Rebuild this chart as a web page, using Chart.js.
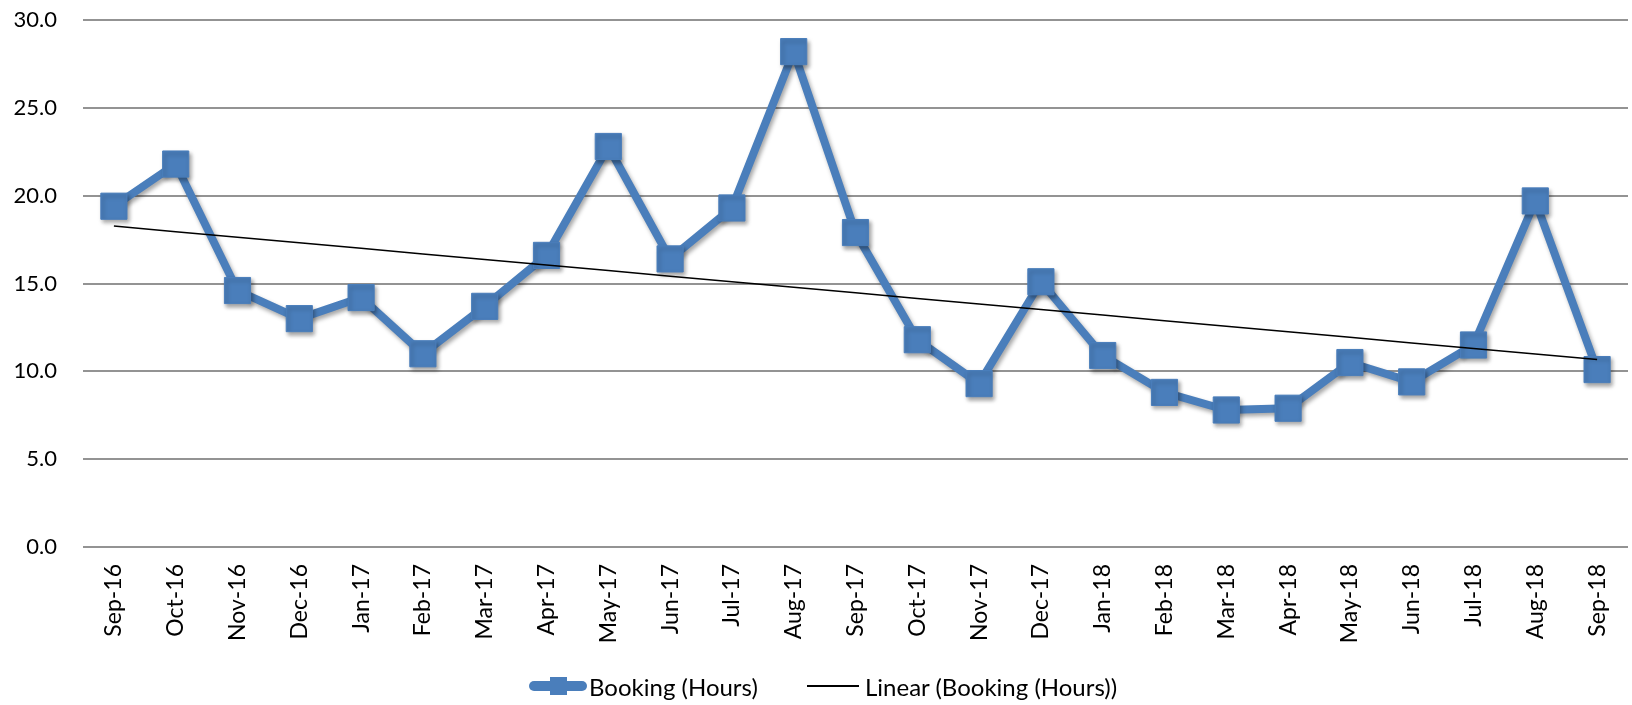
<!DOCTYPE html>
<html>
<head>
<meta charset="utf-8">
<script src="https://cdn.jsdelivr.net/npm/chart.js@4"></script>
<style>
  html, body { margin: 0; padding: 0; background: #fff; overflow: hidden; }
  #wrap { position: relative; width: 1632px; height: 705px; overflow: hidden; }
  canvas { display: block; }
  .leg { position: absolute; top: 672px; height: 28px; display: flex; align-items: center;
         font-family: Lato, "Open Sans", sans-serif; font-size: 24px; color: #000; white-space: nowrap; }
  .mk { position: relative; width: 58px; height: 20px; margin-right: 2px; }
  .mk .bar { position: absolute; left: 0; right: 0; top: 5px; height: 10px; border-radius: 5px; background: #4A7EBB; }
  .mk .sq { position: absolute; left: 21px; top: 1px; width: 17px; height: 18px; background: #4A7EBB; }
  .ln { width: 52px; height: 2px; background: #000; margin-right: 6px; }
</style>
</head>
<body>
<div id="wrap">
  <canvas id="c" width="1632" height="705"></canvas>
  <div class="leg" style="left:529px"><div class="mk"><div class="bar"></div><div class="sq"></div></div><span id="l0"></span></div>
  <div class="leg" style="left:807px"><div class="ln"></div><span id="l1"></span></div>
</div>
<script>
const categories = ["Sep-16","Oct-16","Nov-16","Dec-16","Jan-17","Feb-17","Mar-17","Apr-17","May-17","Jun-17","Jul-17","Aug-17","Sep-17","Oct-17","Nov-17","Dec-17","Jan-18","Feb-18","Mar-18","Apr-18","May-18","Jun-18","Jul-18","Aug-18","Sep-18"];
const bookingHours = [19.4,21.8,14.6,13.0,14.2,11.0,13.7,16.6,22.8,16.4,19.3,28.2,17.9,11.8,9.3,15.1,10.9,8.8,7.8,7.9,10.5,9.4,11.5,19.7,10.1];
const yTicks = [0,5,10,15,20,25,30];
const seriesNames = ["Booking (Hours)", "Linear (Booking (Hours))"];

document.getElementById('l0').textContent = seriesNames[0];
document.getElementById('l1').textContent = seriesNames[1];

// Linear trendline (least squares), as Excel computes it
function linearTrend(vals) {
  const n = vals.length;
  let sx = 0, sy = 0, sxx = 0, sxy = 0;
  vals.forEach((v, i) => { const x = i + 1; sx += x; sy += v; sxx += x * x; sxy += x * v; });
  const b = (n * sxy - sx * sy) / (n * sxx - sx * sx);
  const a = (sy - b * sx) / n;
  return vals.map((_, i) => a + b * (i + 1));
}
const trend = linearTrend(bookingHours);

const shadowPlugin = {
  id: 'shadow',
  beforeDatasetDraw(chart, args) {
    if (args.index === 0) {
      const ctx = chart.ctx;
      ctx.save();
      ctx.shadowColor = 'rgba(0,0,0,0.35)';
      ctx.shadowBlur = 4;
      ctx.shadowOffsetX = 2;
      ctx.shadowOffsetY = 3;
    }
  },
  afterDatasetDraw(chart, args) {
    if (args.index === 0) chart.ctx.restore();
  }
};

const FAMILY = 'Lato, "Open Sans", sans-serif';

new Chart(document.getElementById('c'), {
  type: 'line',
  data: {
    labels: categories,
    datasets: [
      {
        label: seriesNames[0],
        data: bookingHours,
        borderColor: '#4A7EBB',
        backgroundColor: '#4A7EBB',
        borderWidth: 8,
        tension: 0,
        pointStyle: 'rect',
        pointRadius: 18.5,
        pointBorderWidth: 1,
        pointBackgroundColor: '#4A7EBB',
        pointBorderColor: '#4A7EBB',
        clip: false,
        order: 1
      },
      {
        label: seriesNames[1],
        data: trend,
        borderColor: '#000',
        borderWidth: 1.5,
        pointRadius: 0,
        tension: 0,
        clip: false,
        order: 0
      }
    ]
  },
  options: {
    responsive: false,
    animation: false,
    events: [],
    layout: { autoPadding: false, padding: { left: 0, right: 4, top: 20, bottom: 60 } },
    plugins: { legend: { display: false }, tooltip: { enabled: false } },
    scales: {
      x: {
        offset: true,
        grid: { display: false, drawTicks: false },
        border: { display: false },
        ticks: { color: '#000', font: { family: FAMILY, size: 23 }, minRotation: 90, maxRotation: 90, padding: 17, autoSkip: false },
        afterFit(s) { s.height = 98; s.paddingLeft = 0; s.paddingRight = 0; }
      },
      y: {
        min: 0, max: 30,
        afterBuildTicks(s) { s.ticks = yTicks.map(v => ({ value: v })); },
        grid: { color: '#939393', lineWidth: 2, drawTicks: false },
        border: { display: false },
        ticks: { color: '#000', font: { family: FAMILY, size: 22 }, padding: 26, callback: v => Number(v).toFixed(1) },
        afterFit(s) { s.width = 83; s.paddingTop = 0; s.paddingBottom = 0; }
      }
    }
  },
  plugins: [shadowPlugin]
});
</script>
</body>
</html>
